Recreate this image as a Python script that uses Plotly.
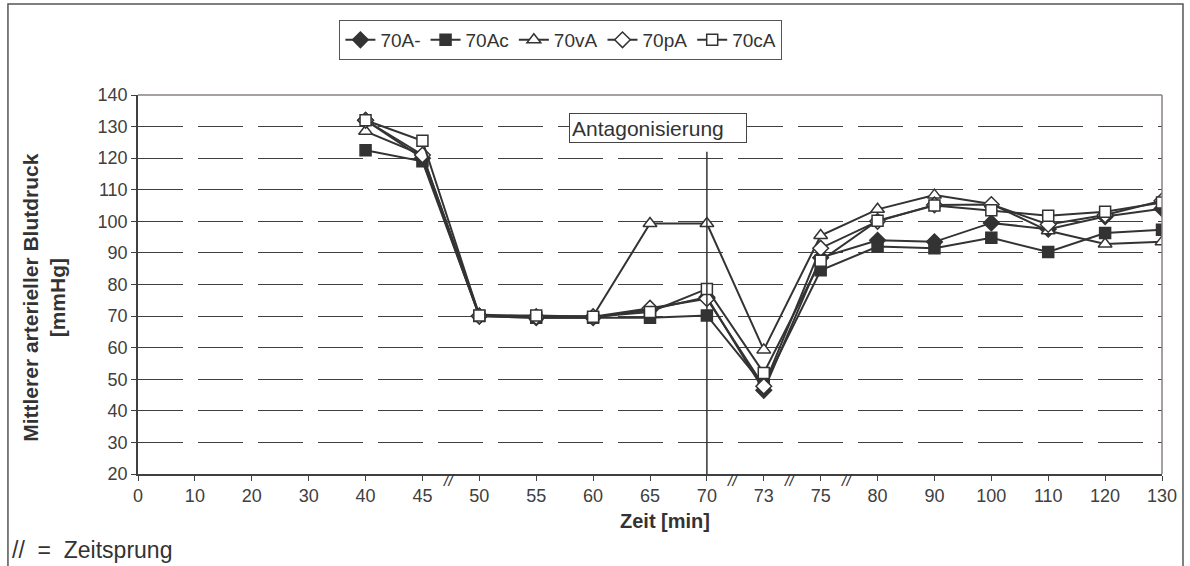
import plotly.graph_objects as go

# Time points (minutes); the axis is categorical with breaks between some points
zeit = ["0", "10", "20", "30", "40", "45", "50", "55", "60", "65", "70",
        "73", "75", "80", "90", "100", "110", "120", "130"]

# Mean arterial blood pressure [mmHg] per group
s_70A_minus = [None, None, None, None, 132, 120, 70, 69.5, 69.5, 72, 76,
               46.5, 88.5, 94, 93.5, 99.5, 97.5, 101.5, 104]
s_70Ac = [None, None, None, None, 122.5, 119, 70, 69.5, 69.5, 69.5, 70.2,
          48, 84.5, 92, 91.5, 94.8, 90.3, 96.3, 97.3]
s_70vA = [None, None, None, None, 128.5, 121, 70.5, 69.8, 70, 99.3, 99.3,
          59.3, 95.5, 103.8, 108.3, 105.5, 97, 92.8, 93.5]
s_70pA = [None, None, None, None, 132, 121, 70, 69.8, 69.8, 72.5, 75.5,
          47.8, 91.5, 100, 105.2, 105.3, 99, 102, 106.5]
s_70cA = [None, None, None, None, 132, 125.5, 70.2, 70.2, 69.8, 71.3, 78.6,
          52, 87.5, 100.2, 105, 103.5, 101.8, 103, 106]

series_names = ["70A-", "70Ac", "70vA", "70pA", "70cA"]
series_values = [s_70A_minus, s_70Ac, s_70vA, s_70pA, s_70cA]

# Position of the antagonisation event and the time jumps (between categories)
antagonisierung_at = "70"
zeitsprung_after = ["45", "70", "73", "75"]

ink = "#333333"
styles = [
    dict(symbol="diamond", size=12, color=ink, line=dict(color=ink, width=1.5)),
    dict(symbol="square", size=11, color=ink, line=dict(color=ink, width=1.5)),
    dict(symbol="triangle-up", size=12, color="white", line=dict(color=ink, width=1.5)),
    dict(symbol="diamond", size=12, color="white", line=dict(color=ink, width=1.5)),
    dict(symbol="square", size=11, color="white", line=dict(color=ink, width=1.5)),
]

fig = go.Figure()
for name, vals, mk in zip(series_names, series_values, styles):
    fig.add_trace(go.Scatter(
        x=zeit, y=vals, name=name, mode="lines+markers",
        line=dict(color=ink, width=2), marker=mk, connectgaps=False,
    ))

font_family = "Liberation Sans, Arial, sans-serif"
tick_font = dict(family=font_family, size=18, color="#404040")

fig.update_layout(
    width=1190, height=566,
    margin=dict(l=138, r=28, t=95, b=92),
    paper_bgcolor="white", plot_bgcolor="white",
    font=dict(family=font_family, color="#333333"),
    showlegend=True,
    legend=dict(
        orientation="h", x=0.413, xanchor="center", y=1.198, yanchor="top",
        bordercolor="#555555", borderwidth=1, bgcolor="white",
        font=dict(family=font_family, size=19, color="#333333"),
        itemwidth=30, tracegroupgap=0,
    ),
    xaxis=dict(
        type="category", categoryorder="array", categoryarray=zeit,
        range=[0, len(zeit) - 1], showgrid=False, zeroline=False,
        showline=True, linecolor="#404040", linewidth=1.5,
        ticks="outside", ticklen=5, tickcolor="#404040",
        tickfont=tick_font,
    ),
    yaxis=dict(
        range=[20, 140], dtick=10, tick0=20,
        showgrid=True, gridcolor="#404040", gridwidth=1, griddash="45px,15px",
        zeroline=False, showline=True, linecolor="#404040", linewidth=1.5,
        ticks="outside", ticklen=5, tickcolor="#404040",
        tickfont=tick_font,
    ),
)

# Plot-area frame (top and right edges)
fig.add_shape(type="line", xref="paper", yref="paper", x0=0, x1=1, y0=1, y1=1,
              line=dict(color="#8a8080", width=1.5))
fig.add_shape(type="line", xref="paper", yref="paper", x0=1, x1=1, y0=0, y1=1,
              line=dict(color="#8a8080", width=1.5))

# Outer chart border
fig.add_shape(type="path", xref="paper", yref="paper",
              path="M -0.127 -0.3 L -0.127 1.24 L 1.0205 1.24 L 1.0205 -0.3",
              line=dict(color="#555555", width=1.5))

# Vertical marker for the antagonisation
idx_ant = zeit.index(antagonisierung_at)
fig.add_shape(type="line", xref="x", yref="y", x0=idx_ant, x1=idx_ant,
              y0=20, y1=122, line=dict(color=ink, width=1.5))
fig.add_annotation(
    xref="paper", yref="paper", x=0.508, y=0.914, xanchor="center", yanchor="middle",
    text="Antagonisierung", showarrow=False, align="left",
    width=172, height=24, borderpad=2,
    bordercolor="#444444", borderwidth=1, bgcolor="white",
    font=dict(family=font_family, size=21, color="#333333"),
)

# Time-jump marks on the x axis
for lbl in zeitsprung_after:
    fig.add_annotation(
        xref="x", yref="paper", x=zeit.index(lbl) + 0.45, y=-0.018,
        xanchor="center", yanchor="middle",
        text="<i>//</i>", showarrow=False,
        font=dict(family=font_family, size=16, color="#333333"),
    )

# Axis titles
fig.add_annotation(
    xref="paper", yref="paper", x=-0.092, y=0.467, xanchor="center", yanchor="middle",
    text="<b>Mittlerer arterieller Blutdruck<br>[mmHg]</b>",
    textangle=-90, showarrow=False,
    font=dict(family=font_family, size=21, color="#333333"),
)
fig.add_annotation(
    xref="paper", yref="paper", x=0.515, y=-0.124, xanchor="center", yanchor="middle",
    text="<b>Zeit [min]</b>", showarrow=False,
    font=dict(family=font_family, size=20, color="#333333"),
)
fig.add_annotation(
    xref="paper", yref="paper", x=-0.125, y=-0.2, xanchor="left", yanchor="middle",
    text="//&nbsp; =&nbsp; Zeitsprung", showarrow=False,
    font=dict(family=font_family, size=23, color="#333333"),
)

fig.write_html("out.html")
